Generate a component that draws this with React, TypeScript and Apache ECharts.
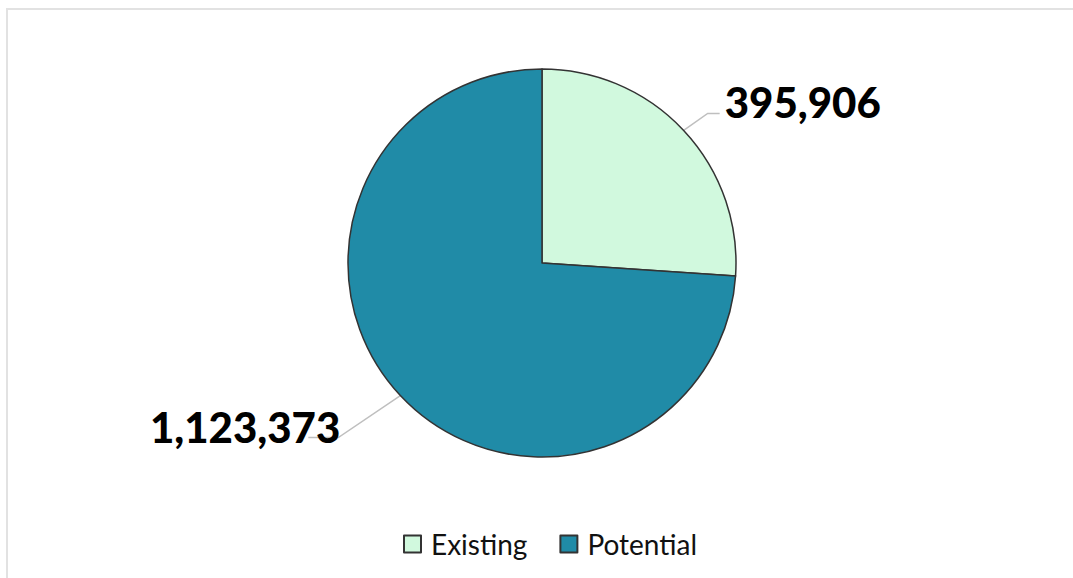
import React, { useEffect, useRef } from "react";
import * as echarts from "echarts";

const categories = ["Existing", "Potential"];
const values = [395906, 1123373];
const colors = ["#d1f9de", "#208ba7"];

const CENTER = [542, 263];
const RADIUS = 194;

export default function App() {
  const ref = useRef<HTMLDivElement>(null);

  useEffect(() => {
    if (!ref.current) return;
    const chart = echarts.init(ref.current, undefined, { renderer: "svg" });
    const total = values.reduce((a, b) => a + b, 0);

    const anchorFor = (idx: number) => {
      let before = 0;
      for (let i = 0; i < idx; i++) before += values[i];
      const mid = ((before + values[idx] / 2) / total) * Math.PI * 2;
      return [CENTER[0] + RADIUS * Math.sin(mid), CENTER[1] - RADIUS * Math.cos(mid)];
    };

    chart.setOption({
      animation: false,
      legend: {
        bottom: 15,
        left: 398,
        itemWidth: 17,
        itemHeight: 17,
        itemGap: 32,
        icon: "rect",
        textStyle: {
          fontFamily: "Lato",
          fontSize: 28,
          color: "#111",
          padding: [0, 0, 0, 5],
        },
        data: categories,
      },
      series: [
        {
          type: "pie",
          center: CENTER,
          radius: RADIUS,
          startAngle: 90,
          clockwise: true,
          itemStyle: { borderColor: "#333", borderWidth: 1.5 },
          label: {
            show: true,
            position: "outside",
            fontFamily: "Lato",
            fontWeight: 900,
            fontSize: 42,
            color: "#000",
            formatter: (p: any) => Number(p.value).toLocaleString("en-US"),
          },
          labelLine: {
            show: true,
            lineStyle: { color: "#bfbfbf", width: 1.5 },
          },
          labelLayout: (params: any) => {
            const idx = params.dataIndex;
            const pts = params.labelLinePoints;
            const p0 = pts && pts[0] ? pts[0] : anchorFor(idx);
            if (idx === 0) {
              const p1 = [p0[0] + 24, p0[1] - 17];
              const p2 = [p1[0] + 12, p1[1]];
              return {
                x: p2[0] + 5,
                y: p2[1] - 11,
                align: "left",
                verticalAlign: "middle",
                labelLinePoints: [p0, p1, p2],
              };
            }
            const p1 = [p0[0] - 62, p0[1] + 42];
            const p2 = [p1[0] - 30, p1[1]];
            return {
              x: p1[0] + 2,
              y: p1[1] - 11,
              align: "right",
              verticalAlign: "middle",
              labelLinePoints: [p0, p1, p2],
            };
          },
          data: categories.map((name, i) => ({
            name,
            value: values[i],
            itemStyle: { color: colors[i] },
          })),
        },
      ],
    });
    return () => chart.dispose();
  }, []);

  return (
    <div
      style={{
        position: "fixed",
        left: 0,
        top: 0,
        width: 1073,
        height: 578,
        overflow: "hidden",
        background: "#fff",
      }}
    >
      <div
        style={{
          position: "absolute",
          left: 6,
          top: 8,
          width: 1120,
          height: 620,
          border: "2px solid #e2e2e2",
          boxSizing: "border-box",
        }}
      />
      <div
        ref={ref}
        style={{ position: "absolute", left: 0, top: 0, width: 1073, height: 578 }}
      />
    </div>
  );
}
